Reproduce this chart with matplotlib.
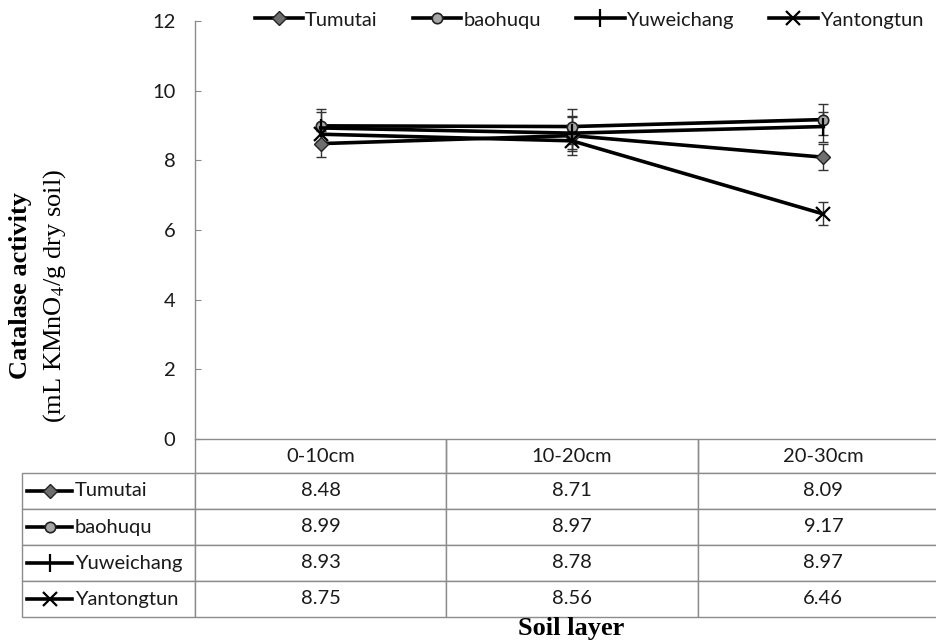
import matplotlib
matplotlib.use("Agg")
import matplotlib.pyplot as plt
from matplotlib.lines import Line2D
from matplotlib.table import Table

# ---- data ----
layers = ["0-10cm", "10-20cm", "20-30cm"]
sites = ["Tumutai", "baohuqu", "Yuweichang", "Yantongtun"]
tumutai = [8.48, 8.71, 8.09]
baohuqu = [8.99, 8.97, 9.17]
yuweichang = [8.93, 8.78, 8.97]
yantongtun = [8.75, 8.56, 6.46]
tumutai_err = [0.37, 0.55, 0.37]
baohuqu_err = [0.47, 0.49, 0.45]
yuweichang_err = [0.45, 0.46, 0.43]
yantongtun_err = [0.20, 0.28, 0.33]
y_ticks = [0, 2, 4, 6, 8, 10, 12]

values = [tumutai, baohuqu, yuweichang, yantongtun]
errors = [tumutai_err, baohuqu_err, yuweichang_err, yantongtun_err]
styles = [
    dict(marker="D", ms=7.5, mfc="#6e6e6e", mec="#222222", mew=1.0),
    dict(marker="o", ms=7.5, mfc="#a6a6a6", mec="#222222", mew=1.2),
    dict(marker="|", ms=13, mfc="black", mec="black", mew=1.6),
    dict(marker="x", ms=10, mfc="black", mec="black", mew=1.6),
]

W, H = 936, 642
fig = plt.figure(figsize=(W / 100, H / 100), dpi=100)
fig.patch.set_facecolor("white")

# axes in pixel coordinates
L, R, T, B = 195, 949, 21, 439
ax = fig.add_axes([L / W, 1 - B / H, (R - L) / W, (B - T) / H])
aw, ah = R - L, B - T


def px(x, y):
    return ((x - L) / aw, (B - y) / ah)


SANS = ["Lato", "DejaVu Sans"]
SERIF = ["Liberation Serif", "DejaVu Serif"]
FS = 14.5
GRAY = "#8c8c8c"
TXT = "#1a1a1a"

xs = list(range(len(layers)))
handles = []
for name, v, e, st in zip(sites, values, errors, styles):
    ax.errorbar(xs, v, yerr=e, fmt="none", ecolor="#333333", elinewidth=1.0,
                capsize=3.6, capthick=1.0, zorder=2)
    ln, = ax.plot(xs, v, color="black", lw=2.6, zorder=3, label=name, **st)
    handles.append(ln)

ax.set_xlim(-0.5, len(layers) - 0.5)
ax.set_ylim(0, 12)
ax.set_yticks(y_ticks)
ax.set_yticklabels([str(t) for t in y_ticks], fontsize=FS, family=SANS, color=TXT)
ax.tick_params(axis="y", direction="in", length=4, color=GRAY, pad=14)
ax.set_xticks([])
for s in ["top", "right"]:
    ax.spines[s].set_visible(False)
for s in ["left", "bottom"]:
    ax.spines[s].set_color(GRAY)
    ax.spines[s].set_linewidth(1.0)

# legend
leg = ax.legend(handles=handles, loc="center", bbox_to_anchor=px(589, 20), ncol=4,
                frameon=False, prop={"family": SANS, "size": FS}, handlelength=2.4,
                handletextpad=0.1, columnspacing=1.75, borderaxespad=0)
for t in leg.get_texts():
    t.set_color(TXT)

# table (cell sizes in axes-fraction units)
label_w = (L - 22) / aw
col_w = 1.0 / len(layers)
hdr_h, row_h = 34, 36
hdr_a, row_a = hdr_h / ah, row_h / ah
tab_h = hdr_a + row_a * len(sites)
tab = Table(ax, bbox=[0, -tab_h, 1, tab_h])
c = tab.add_cell(0, -1, width=label_w, height=hdr_a, text="")
c.visible_edges = ""
for j, lay in enumerate(layers):
    c = tab.add_cell(0, j, width=col_w, height=hdr_a, text=lay, loc="center")
    c.visible_edges = "BLR"
for i, (name, v) in enumerate(zip(sites, values)):
    tab.add_cell(i + 1, -1, width=label_w, height=row_a, text="")
    for j, val in enumerate(v):
        tab.add_cell(i + 1, j, width=col_w, height=row_a, text=f"{val:.2f}", loc="center")
tab.auto_set_font_size(False)
tab.set_fontsize(FS)
for cell in tab.get_celld().values():
    cell.set_edgecolor(GRAY)
    cell.set_linewidth(1.0)
    cell.get_text().set_fontfamily(SANS)
    cell.get_text().set_color(TXT)
ax.add_table(tab)
tab.set_clip_on(False)

# row labels with legend symbols
for i, (name, st) in enumerate(zip(sites, styles)):
    yc = B + hdr_h + row_h * (i + 0.5)
    xa, ya = px(27, yc)
    xb, _ = px(72, yc)
    xm, _ = px(49.5, yc)
    ax.add_line(Line2D([xa, xb], [ya, ya], transform=ax.transAxes, color="black",
                       lw=2.6, clip_on=False))
    ax.add_line(Line2D([xm], [ya], transform=ax.transAxes, color="black",
                       clip_on=False, linestyle="none", **st))
    tx, _ = px(75, yc)
    ax.text(tx, ya, name, transform=ax.transAxes, ha="left", va="center",
            fontsize=FS, family=SANS, color=TXT, clip_on=False)

# axis titles
fig.text(571 / W, 1 - 629 / H, "Soil layer", ha="center", va="center",
         fontsize=19, fontweight="bold", family=SERIF)
fig.text(21 / W, 1 - 286 / H, "Catalase activity", ha="center", va="center",
         rotation=90, fontsize=19, fontweight="bold", family=SERIF)
fig.text(55 / W, 1 - 296 / H, r"(mL KMnO$_4$/g dry soil)", ha="center", va="center",
         rotation=90, fontsize=19, family=SERIF, math_fontfamily="stix")

fig.savefig("out.png", dpi=100, facecolor="white")
